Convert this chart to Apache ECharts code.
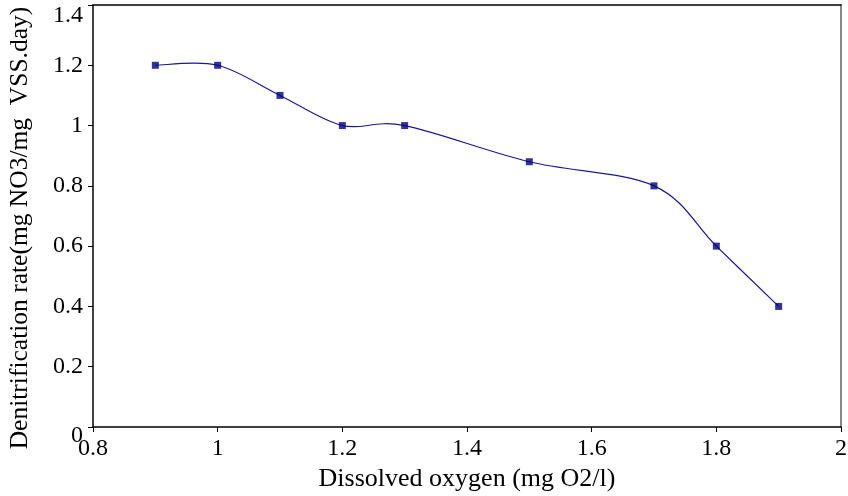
<!DOCTYPE html>
<html>
<head>
<meta charset="utf-8">
<script src="https://cdn.jsdelivr.net/npm/echarts@6/dist/echarts.min.js"></script>
<style>
  html, body { margin: 0; padding: 0; background: #fff; }
  #chart { width: 848px; height: 496px; }
</style>
</head>
<body>
<div id="chart"></div>
<script>
// dissolved oxygen (mg O2/l)
const oxygen = [0.9, 1.0, 1.1, 1.2, 1.3, 1.5, 1.7, 1.8, 1.9];
// denitrification rate
const rate = [1.2, 1.2, 1.1, 1.0, 1.0, 0.88, 0.8, 0.6, 0.4];

const font = "'Liberation Serif', 'Times New Roman', serif";
const points = oxygen.map((x, i) => [x, rate[i]]);

const chart = echarts.init(document.getElementById("chart"));

// smooth curve through the points (Catmull-Rom style bezier, like the spreadsheet chart)
function renderCurve(params, api) {
  if (params.dataIndex !== 0) return null;
  const p = points.map(d => api.coord(d));
  let path = `M${p[0][0]} ${p[0][1]}`;
  for (let i = 0; i < p.length - 1; i++) {
    const p0 = p[i - 1] || p[i];
    const p1 = p[i];
    const p2 = p[i + 1];
    const p3 = p[i + 2] || p[i + 1];
    const c1x = p1[0] + (p2[0] - p0[0]) / 6;
    const c1y = p1[1] + (p2[1] - p0[1]) / 6;
    const c2x = p2[0] - (p3[0] - p1[0]) / 6;
    const c2y = p2[1] - (p3[1] - p1[1]) / 6;
    path += ` C${c1x} ${c1y} ${c2x} ${c2y} ${p2[0]} ${p2[1]}`;
  }
  return {
    type: "path",
    shape: { pathData: path },
    style: { stroke: "#1a1a90", fill: "none", lineWidth: 1.2 },
  };
}

chart.setOption({
  animation: false,
  grid: { left: 93, right: 7, top: 5, bottom: 69, outerBoundsMode: "none" },
  xAxis: [
    {
      type: "value",
      min: 0.8,
      max: 2,
      interval: 0.2,
      name: "Dissolved oxygen (mg O2/l)",
      nameLocation: "middle",
      nameGap: 38,
      nameTextStyle: { fontFamily: font, fontSize: 26, color: "#000" },
      axisLine: { lineStyle: { color: "#000", width: 1.5 } },
      axisTick: { show: true, length: 5, lineStyle: { color: "#000" } },
      axisLabel: { fontFamily: font, fontSize: 24, color: "#000", margin: 10 },
      splitLine: { show: false },
    },
    {
      type: "value",
      position: "top",
      min: 0.8,
      max: 2,
      axisLine: { show: true, onZero: false, lineStyle: { color: "#000", width: 1.5 } },
      axisTick: { show: false },
      axisLabel: { show: false },
      splitLine: { show: false },
    },
  ],
  yAxis: [
    {
      type: "value",
      min: 0,
      max: 1.4,
      interval: 0.2,
      axisLine: { show: true, onZero: false, lineStyle: { color: "#000", width: 1.5 } },
      axisTick: { show: true, length: 5, lineStyle: { color: "#000" } },
      axisLabel: {
        fontFamily: font,
        fontSize: 24,
        color: "#000",
        margin: 10,
        formatter: v => (v >= 1.39 ? "{top|" + v + "}" : v === 0 ? "{bot|0}" : String(v)),
        rich: {
          top: { fontFamily: font, fontSize: 24, color: "#000", padding: [22, 0, 0, 0] },
          bot: { fontFamily: font, fontSize: 24, color: "#000", padding: [18, 0, 0, 0] },
        },
      },
      splitLine: { show: false },
    },
    {
      type: "value",
      position: "right",
      min: 0,
      max: 1.4,
      axisLine: { show: true, onZero: false, lineStyle: { color: "#888", width: 2 } },
      axisTick: { show: false },
      axisLabel: { show: false },
      splitLine: { show: false },
    },
  ],
  graphic: [
    {
      type: "text",
      x: 20,
      y: 228,
      rotation: Math.PI / 2,
      style: {
        text: "Denitrification rate(mg NO3/mg  VSS.day)",
        font: "25.5px " + font,
        fill: "#000",
        align: "center",
        verticalAlign: "middle",
      },
    },
  ],
  series: [
    {
      type: "custom",
      renderItem: renderCurve,
      data: points,
      z: 2,
    },
    {
      type: "scatter",
      data: points,
      symbol: "rect",
      symbolSize: 7,
      itemStyle: { color: "#000080" },
      z: 3,
    },
  ],
});
</script>
</body>
</html>
